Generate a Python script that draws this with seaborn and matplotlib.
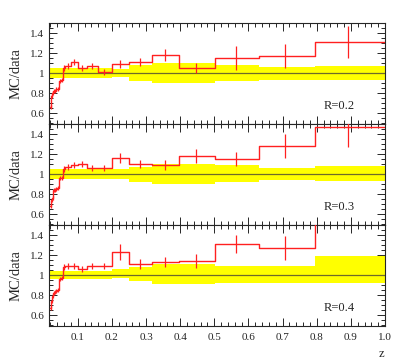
import numpy as np
import seaborn as sns
from matplotlib import pyplot as plt
from matplotlib.ticker import MultipleLocator, FixedLocator, FixedFormatter

# bin edges in z (log spaced: 20/decade below 0.063, 10/decade above)
edges = [0.02, 0.0224, 0.0251, 0.0282, 0.0316, 0.0355, 0.0398, 0.0447, 0.0501, 0.0562,
         0.0631, 0.0794, 0.1, 0.126, 0.158, 0.2, 0.251, 0.316, 0.398, 0.501, 0.631, 0.794, 1.0]

radii = ["R=0.2", "R=0.3", "R=0.4"]

ratio_r02 = [0.66, 0.77, 0.80, 0.82, 0.82, 0.84, 0.84, 0.92, 0.93, 1.05, 1.07, 1.11,
             1.05, 1.07, 1.01, 1.09, 1.11, 1.18, 1.05, 1.15, 1.17, 1.31]
err_r02 = [0.02, 0.02, 0.02, 0.02, 0.02, 0.02, 0.02, 0.02, 0.02, 0.03, 0.03, 0.03,
           0.03, 0.03, 0.03, 0.04, 0.04, 0.06, 0.05, 0.12, 0.12, 0.16]

ratio_r03 = [0.68, 0.74, 0.76, 0.84, 0.84, 0.85, 0.86, 0.96, 0.96, 1.05, 1.07, 1.09,
             1.10, 1.06, 1.06, 1.16, 1.10, 1.09, 1.18, 1.15, 1.28, 1.47]
err_r03 = [0.02, 0.02, 0.02, 0.02, 0.02, 0.02, 0.02, 0.02, 0.02, 0.03, 0.03, 0.03,
           0.03, 0.03, 0.03, 0.05, 0.04, 0.05, 0.07, 0.07, 0.12, 0.2]

ratio_r04 = [0.67, 0.74, 0.79, 0.82, 0.83, 0.84, 0.85, 0.96, 0.97, 1.08, 1.09, 1.09,
             1.06, 1.09, 1.09, 1.23, 1.11, 1.13, 1.14, 1.31, 1.27, 1.8]
err_r04 = [0.02, 0.02, 0.02, 0.02, 0.02, 0.02, 0.02, 0.02, 0.02, 0.03, 0.03, 0.03,
           0.03, 0.03, 0.03, 0.08, 0.05, 0.05, 0.07, 0.09, 0.12, 0.2]

# systematic band (yellow)
band_edges = [0.016, 0.2, 0.251, 0.316, 0.501, 0.631, 0.794, 1.0]
band_lo_r02 = [0.95, 0.96, 0.92, 0.90, 0.92, 0.93, 0.93]
band_hi_r02 = [1.05, 1.04, 1.08, 1.10, 1.08, 1.06, 1.07]
band_lo_r03 = [0.95, 0.95, 0.92, 0.90, 0.92, 0.94, 0.93]
band_hi_r03 = [1.05, 1.05, 1.07, 1.10, 1.09, 1.06, 1.08]
band_lo_r04 = [0.96, 0.97, 0.94, 0.91, 0.92, 0.92, 0.92]
band_hi_r04 = [1.04, 1.06, 1.08, 1.11, 1.09, 1.09, 1.19]

ratios = [ratio_r02, ratio_r03, ratio_r04]
errs = [err_r02, err_r03, err_r04]
bands = [(band_lo_r02, band_hi_r02), (band_lo_r03, band_hi_r03), (band_lo_r04, band_hi_r04)]

sns.set_style("ticks")
plt.rcParams["font.family"] = ["Liberation Serif", "DejaVu Serif"]

fig, axes = plt.subplots(3, 1, figsize=(3.99, 3.6), dpi=100, sharex=True)
fig.subplots_adjust(left=0.123, right=0.965, top=0.936, bottom=0.094, hspace=0)

edges = np.array(edges)
centers = np.sqrt(edges[:-1] * edges[1:])

for ax, label, vals, err, (lo, hi) in zip(axes, radii, ratios, errs, bands):
    lo = np.append(lo, lo[-1])
    hi = np.append(hi, hi[-1])
    ax.fill_between(band_edges, lo, hi, step="post", color="#ffff00", lw=0, zorder=1)
    ax.axhline(1.0, color="#6e6a2a", lw=0.9, zorder=2)
    sns.lineplot(x=edges, y=np.append(vals, vals[-1]), drawstyle="steps-post",
                 color="#ff2020", lw=1.0, ax=ax, zorder=3)
    ax.errorbar(centers, vals, yerr=err, fmt="none", ecolor="#ff2020", elinewidth=0.9, zorder=3)
    ax.text(0.865, 0.67, label, ha="center", va="center", fontsize=9)

    ax.set_xlim(0.016, 1.0)
    ax.set_ylim(0.49, 1.5)
    ax.yaxis.set_major_locator(FixedLocator([0.6, 0.8, 1.0, 1.2, 1.4]))
    ax.yaxis.set_major_formatter(FixedFormatter(["0.6", "0.8", "1", "1.2", "1.4"]))
    ax.yaxis.set_minor_locator(MultipleLocator(0.05))
    ax.xaxis.set_major_locator(MultipleLocator(0.1))
    ax.xaxis.set_minor_locator(MultipleLocator(0.02))
    ax.tick_params(which="both", direction="in", top=True, right=True, labelsize=8, width=0.7)
    ax.tick_params(which="major", length=6)
    ax.tick_params(which="minor", length=3)
    ax.tick_params(axis="x", pad=5)
    for s in ax.spines.values():
        s.set_linewidth(0.8)
    ax.set_ylabel("MC/data", fontsize=10.5)
    ax.yaxis.set_label_coords(-0.08, 0.5)
    ax.set_xlabel("")

axes[-1].set_xlabel("z", fontsize=9)
axes[-1].xaxis.set_label_coords(0.99, -0.22)

fig.savefig("out.png", dpi=100)
